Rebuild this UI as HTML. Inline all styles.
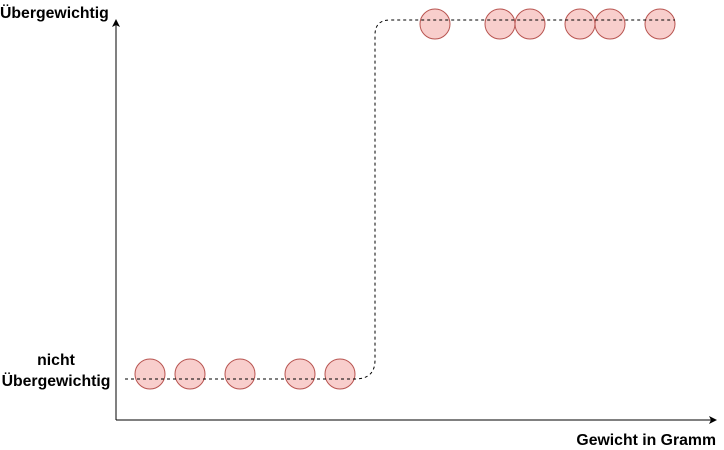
<!DOCTYPE html>
<html><head><meta charset="utf-8"><style>
body{margin:0;background:#fff;width:724px;height:450px;overflow:hidden}
svg{display:block}
text{font-family:"Liberation Sans",sans-serif;font-weight:bold;font-size:15.8px;fill:#000}
</style></head><body>
<svg id="c" width="724" height="450">
<defs><marker id="ar" markerWidth="8" markerHeight="8" refX="7" refY="4" orient="auto" markerUnits="userSpaceOnUse"><path d="M0,0 L8,4 L0,8 L2,4 Z" fill="#000"/></marker></defs>
<line x1="116" y1="420" x2="116" y2="20" stroke="#000" marker-end="url(#ar)"/>
<line x1="116" y1="420" x2="716" y2="420" stroke="#000" marker-end="url(#ar)"/>
<text x="0" y="18">Übergewichtig</text>
<text x="56" y="365" text-anchor="middle">nicht</text>
<text x="56" y="386" text-anchor="middle">Übergewichtig</text>
<text x="716" y="445" text-anchor="end">Gewicht in Gramm</text>
<g id="pts"></g>
<path d="M125,379 L355,379 Q375,379 375,360 L375,35 Q375,20 390,20 L675,20" fill="none" stroke="#000" stroke-dasharray="3,3"/>
</svg>
<script>
const weightsNo=[34,74,124,184,224];
const weightsYes=[319,384,414,464,494,544];
const classNo=[0,0,0,0,0];
const classYes=[1,1,1,1,1,1];
const xs=v=>116+v;
const ys=c=>374-c*350;
const g=document.getElementById('pts');
function draw(ws,cs){
  ws.forEach((w,i)=>{
    const el=document.createElementNS('http://www.w3.org/2000/svg','circle');
    el.setAttribute('cx',xs(w));el.setAttribute('cy',ys(cs[i]));el.setAttribute('r',15);
    el.setAttribute('fill','#f8cecc');el.setAttribute('stroke','#b85450');
    
    
    g.appendChild(el);
  });
}
draw(weightsNo,classNo);draw(weightsYes,classYes);
</script>
</body></html>
